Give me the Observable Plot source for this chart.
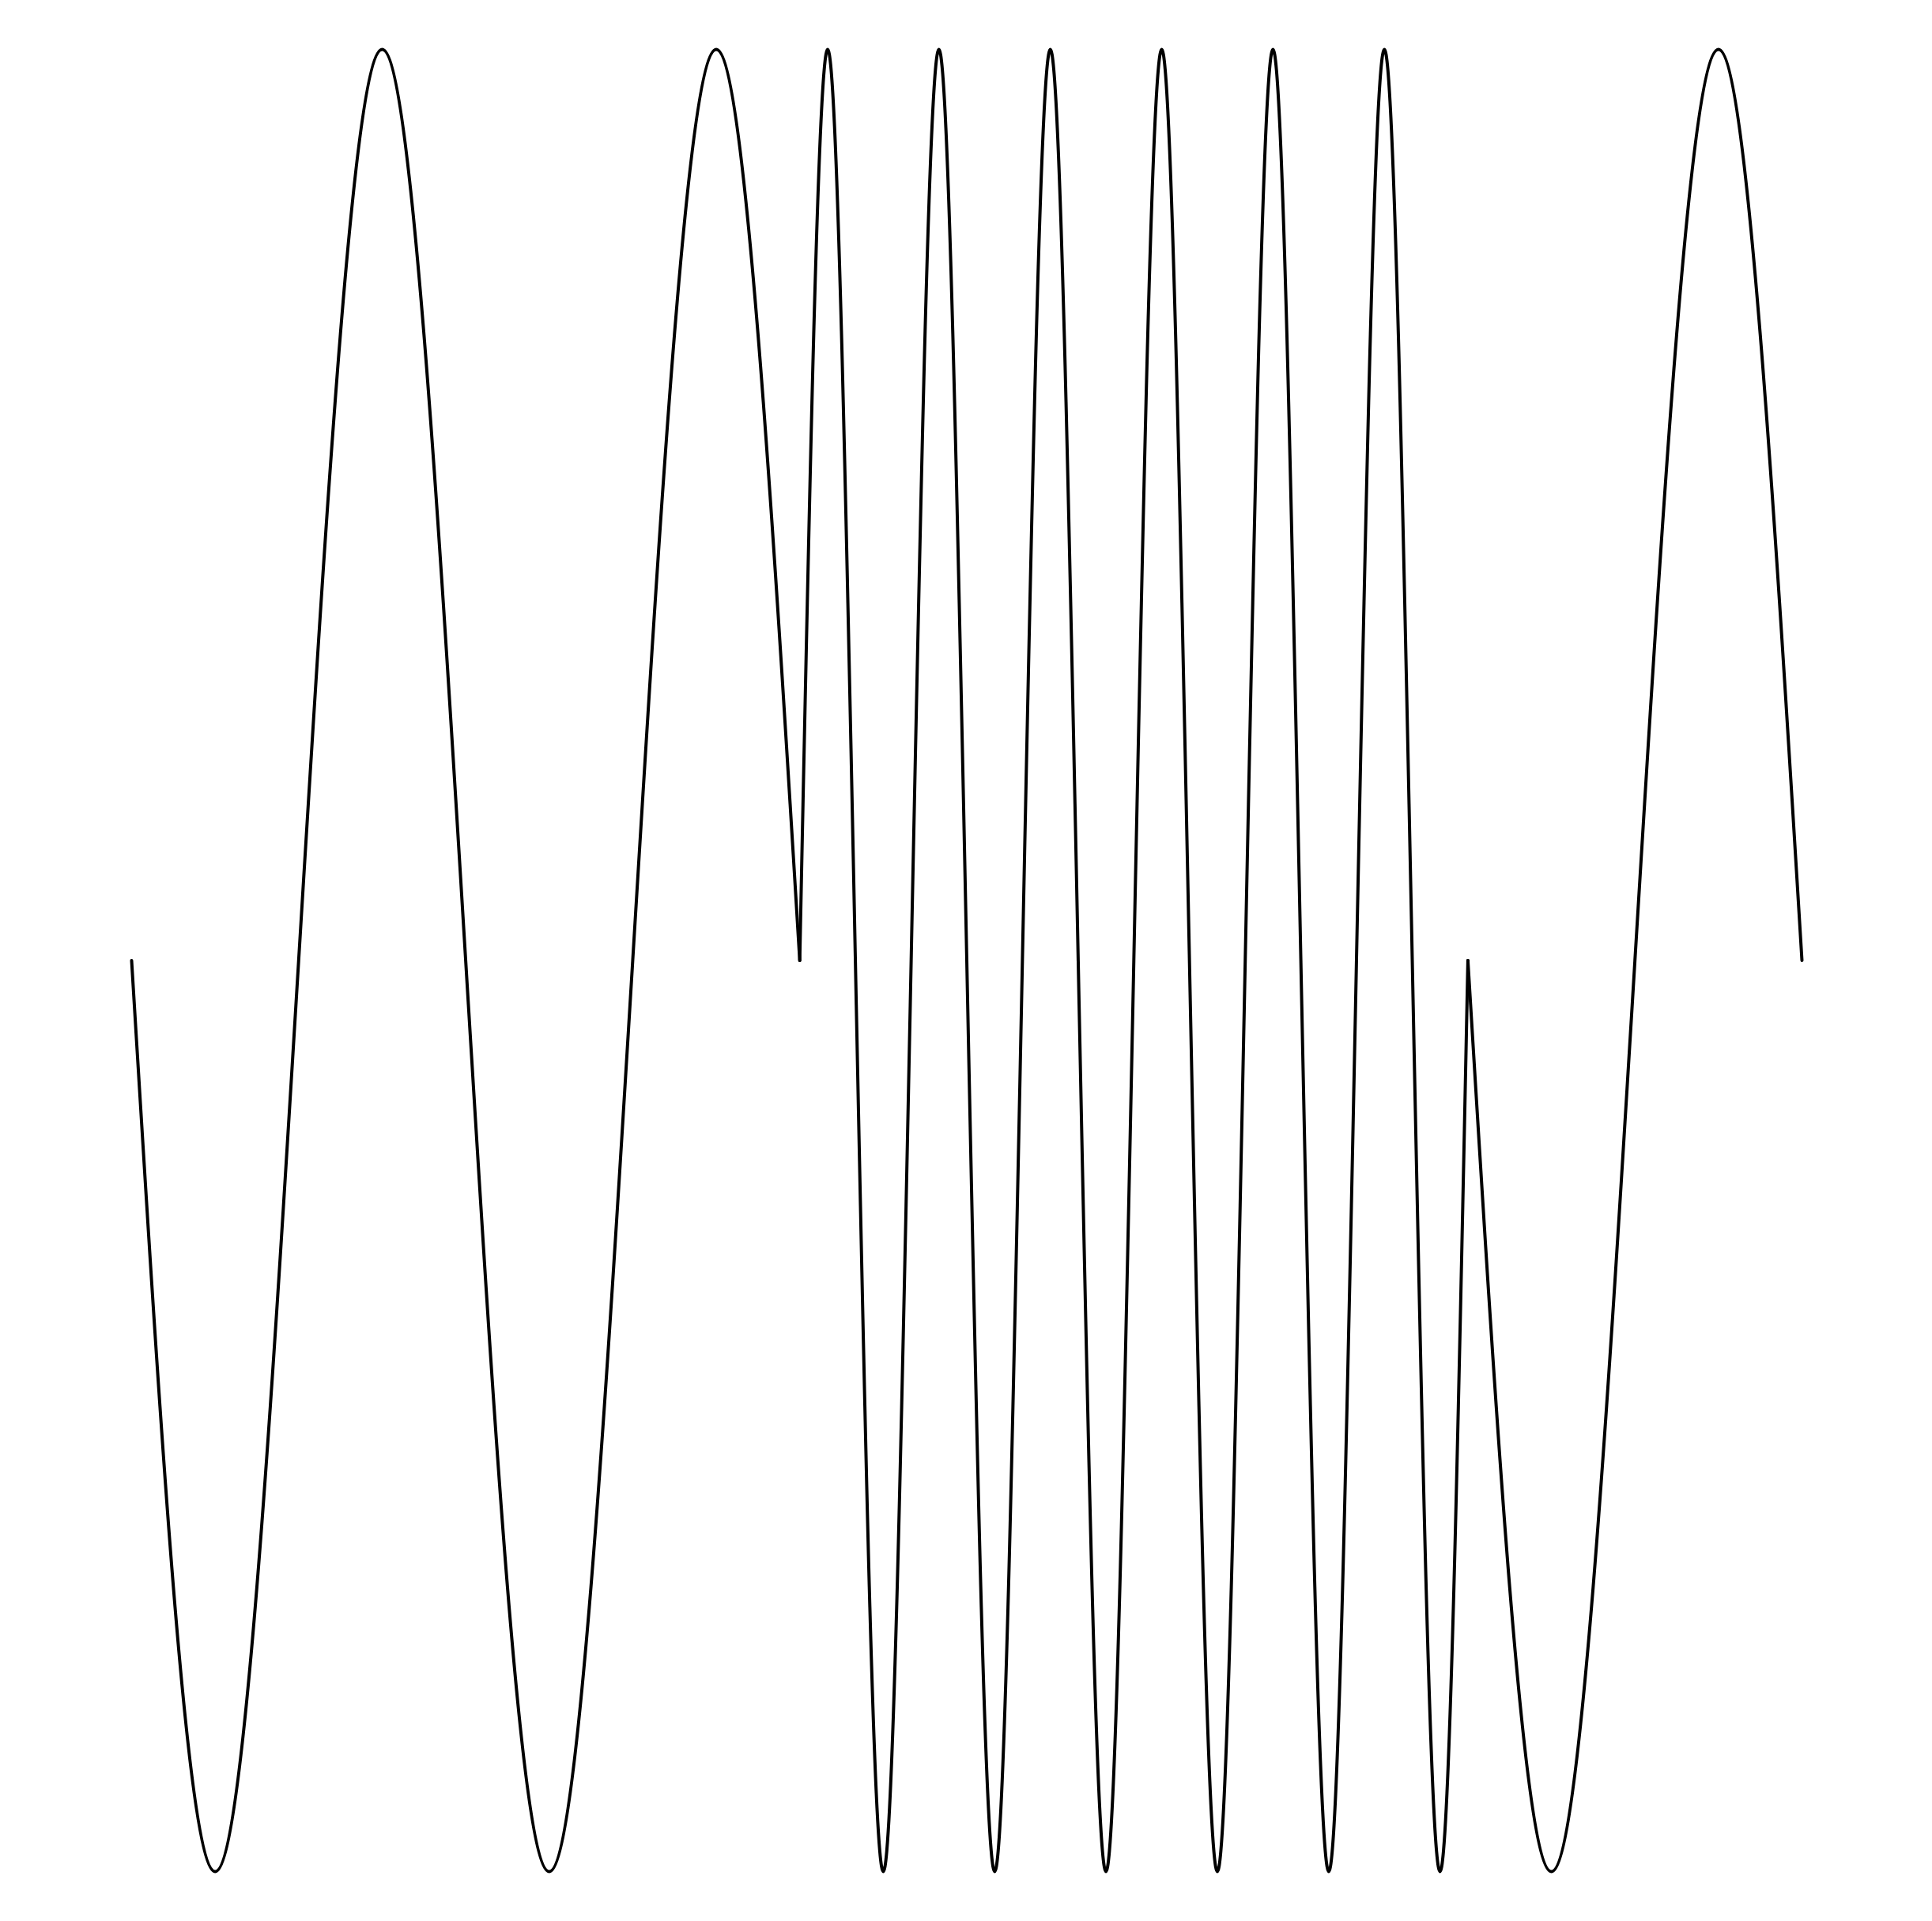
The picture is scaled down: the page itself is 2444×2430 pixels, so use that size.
<!DOCTYPE html>
<html>
<head>
<meta charset="utf-8">
<script src="https://cdn.jsdelivr.net/npm/d3@7"></script>
<script src="https://cdn.jsdelivr.net/npm/@observablehq/plot@0.6"></script>
<style>
  html, body { margin: 0; padding: 0; background: #fff; }
  #chart svg { display: block; }
</style>
</head>
<body>
<div id="chart"></div>
<script>
// Segment 1 (slow wave), read at quarter-period points
const seg1X = [0, 0.5, 1, 1.5, 2, 2.5, 3, 3.5, 4];
const seg1Y = [0, -1, 0, 1, 0, -1, 0, 1, 0];

// Segment 2 (fast wave, 6 cycles)
const seg2X = [4, 4.167, 4.333, 4.5, 4.667, 4.833, 5, 5.167, 5.333, 5.5, 5.667, 5.833,
               6, 6.167, 6.333, 6.5, 6.667, 6.833, 7, 7.167, 7.333, 7.5, 7.667, 7.833, 8];
const seg2Y = [0, 1, 0, -1, 0, 1, 0, -1, 0, 1, 0, -1,
               0, 1, 0, -1, 0, 1, 0, -1, 0, 1, 0, -1, 0];

// Segment 3 (slow wave again)
const seg3X = [8, 8.5, 9, 9.5, 10];
const seg3Y = [0, -1, 0, 1, 0];

const segments = [
  {name: "a", xs: seg1X, ys: seg1Y},
  {name: "b", xs: seg2X, ys: seg2Y},
  {name: "c", xs: seg3X, ys: seg3Y}
];
const data = segments.flatMap(s => s.xs.map((x, i) => ({x, y: s.ys[i], seg: s.name})));

const chart = Plot.plot({
  width: 2444,
  height: 2430,
  marginLeft: 166,
  marginRight: 165,
  marginTop: 62,
  marginBottom: 63,
  x: {domain: [0, 10], axis: null},
  y: {domain: [-1, 1], axis: null},
  marks: [
    Plot.line(data, {x: "x", y: "y", z: "seg", curve: "natural", stroke: "#000", strokeWidth: 4})
  ]
});
document.getElementById("chart").append(chart);
</script>
</body>
</html>
